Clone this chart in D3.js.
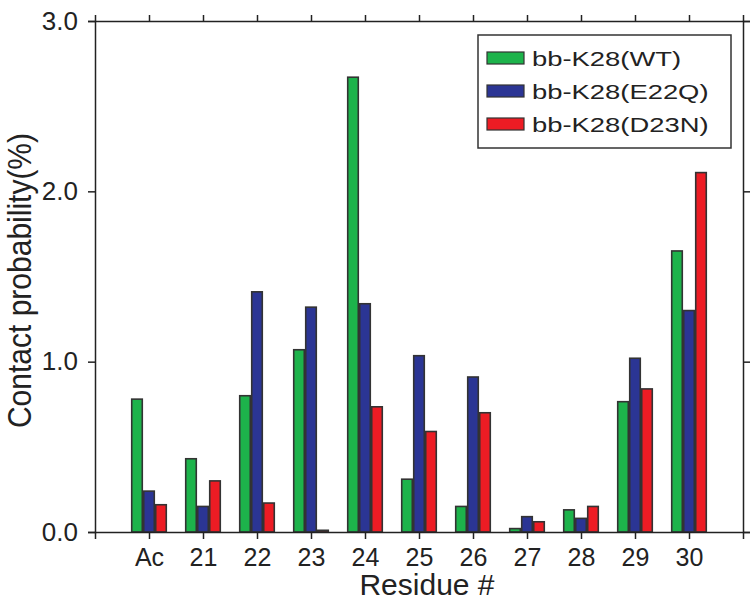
<!DOCTYPE html>
<html>
<head>
<meta charset="utf-8">
<script src="https://cdn.jsdelivr.net/npm/d3@7"></script>
<style>
  body { margin: 0; background: #fff; }
  svg { display: block; font-family: 'Liberation Sans', Arial, sans-serif; }
  .axis path, .axis line { stroke: #222; stroke-width: 1.5; }
  .axis text { fill: #222; }
</style>
</head>
<body>
<div id="chart"></div>
<script>

// Data
var residues = ['Ac', '21', '22', '23', '24', '25', '26', '27', '28', '29', '30'];
var seriesNames = ['bb-K28(WT)', 'bb-K28(E22Q)', 'bb-K28(D23N)'];
var wt   = [0.78, 0.43, 0.80, 1.07, 2.67, 0.31, 0.15, 0.02, 0.13, 0.765, 1.65];
var e22q = [0.24, 0.15, 1.41, 1.32, 1.34, 1.035, 0.91, 0.09, 0.08, 1.02, 1.30];
var d23n = [0.16, 0.30, 0.17, 0.01, 0.735, 0.59, 0.70, 0.06, 0.15, 0.84, 2.11];
var yTicks = [0, 1, 2, 3];
var colors = ['#1db34b', '#2b3594', '#ed1c24'];

var width = 750,
    height = 606,
    margin = { top: 21, right: 7, bottom: 74, left: 95 };

var svg = d3.select('#chart')
  .append('svg')
    .attr('width', width)
    .attr('height', height);

var x = d3.scalePoint()
  .domain(residues)
  .range([margin.left, width - margin.right])
  .padding(1);

var sub = d3.scaleBand()
  .domain(seriesNames)
  .range([-18, 18])
  .paddingInner(0.12)
  .paddingOuter(0.06);

var y = d3.scaleLinear()
  .domain([0, 3])
  .range([height - margin.bottom, margin.top]);

var color = d3.scaleOrdinal().domain(seriesNames).range(colors);

var series = [wt, e22q, d23n];
var rows = [];
residues.forEach(function(r, i){
  seriesNames.forEach(function(s, j){
    rows.push({ residue: r, name: s, value: series[j][i] });
  });
});

// Bars
svg.selectAll('.bar')
  .data(rows)
  .enter()
    .append('rect')
      .attr('class', 'bar')
      .attr('x', function(d){ return x(d.residue) + sub(d.name); })
      .attr('y', function(d){ return y(d.value); })
      .attr('width', sub.bandwidth())
      .attr('height', function(d){ return y(0) - y(d.value); })
      .attr('fill', function(d){ return color(d.name); })
      .attr('stroke', '#333')
      .attr('stroke-width', 1.6);

// Axes
var fmt = d3.format('.1f');

svg.append('g')
  .attr('class', 'axis')
  .attr('transform', 'translate(0,' + y(0) + ')')
  .call(d3.axisBottom(x).tickSizeOuter(0).tickSize(7).tickPadding(9))
  .call(function(g){ g.selectAll('text').attr('font-size', 25); });

svg.append('g')
  .attr('class', 'axis')
  .attr('transform', 'translate(0,' + margin.top + ')')
  .call(d3.axisTop(x).tickSizeOuter(0).tickSize(6).tickFormat(''));

svg.append('g')
  .attr('class', 'axis')
  .attr('transform', 'translate(' + margin.left + ',0)')
  .call(d3.axisLeft(y).tickValues(yTicks).tickFormat(fmt).tickSizeOuter(0).tickSize(7).tickPadding(10))
  .call(function(g){ g.selectAll('text').attr('font-size', 26); });

svg.append('g')
  .attr('class', 'axis')
  .attr('transform', 'translate(' + (width - margin.right) + ',0)')
  .call(d3.axisRight(y).tickValues(yTicks).tickFormat('').tickSizeOuter(0).tickSize(7));

// Axis titles
svg.append('text')
  .attr('x', 427)
  .attr('y', 595)
  .attr('text-anchor', 'middle')
  .attr('font-size', 30)
  .attr('fill', '#222')
  .text('Residue #');

svg.append('text')
  .attr('transform', 'translate(31,' + ((y(0) + y(3)) / 2 + 4) + ') rotate(-90) scale(1,1.08)')
  .attr('text-anchor', 'middle')
  .attr('font-size', 30)
  .attr('fill', '#222')
  .text('Contact probability(%)');

// Legend
var legend = svg.append('g').attr('transform', 'translate(478,35)');

legend.append('rect')
  .attr('width', 253)
  .attr('height', 113)
  .attr('fill', '#fff')
  .attr('stroke', '#333')
  .attr('stroke-width', 1.5);

var item = legend.selectAll('.legend-item')
  .data(seriesNames)
  .enter()
    .append('g')
      .attr('class', 'legend-item')
      .attr('transform', function(d, i){ return 'translate(0,' + (23 + i * 33) + ')'; });

item.append('rect')
  .attr('x', 9)
  .attr('y', -6)
  .attr('width', 37)
  .attr('height', 12)
  .attr('fill', function(d){ return color(d); })
  .attr('stroke', '#333')
  .attr('stroke-width', 1.2);

item.append('text')
  .attr('transform', 'translate(54,8) scale(1.37,1)')
  .attr('font-size', 20)
  .attr('fill', '#222')
  .text(function(d){ return d; });

</script>
</body>
</html>
